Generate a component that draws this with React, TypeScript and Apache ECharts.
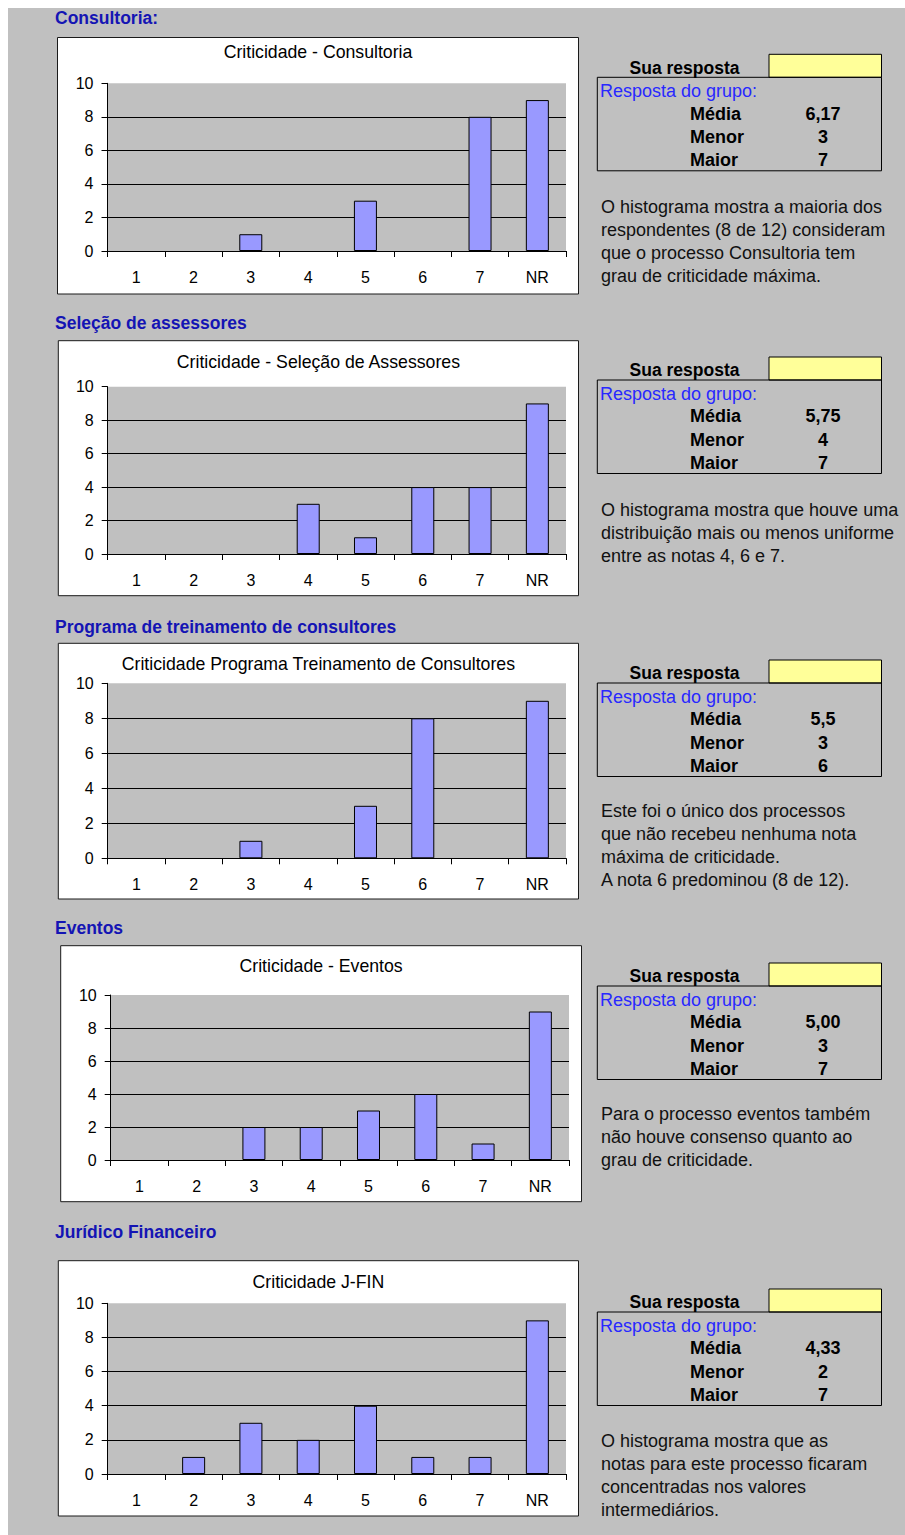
import React, { useEffect, useRef } from "react";
import * as echarts from "echarts";

// ---- data ----
const categories = ["1", "2", "3", "4", "5", "6", "7", "NR"];
const consultoria = [0, 0, 1, 0, 3, 0, 8, 9];
const selecao = [0, 0, 0, 3, 1, 4, 4, 9];
const programa = [0, 0, 1, 0, 3, 8, 0, 9];
const eventos = [0, 0, 2, 2, 3, 4, 1, 9];
const juridico = [0, 1, 3, 2, 4, 1, 1, 9];
const seriesData = [consultoria, selecao, programa, eventos, juridico];

const headings = [
  "Consultoria:",
  "Seleção de assessores",
  "Programa de treinamento de consultores",
  "Eventos",
  "Jurídico Financeiro",
];
const chartTitles = [
  "Criticidade - Consultoria",
  "Criticidade - Seleção de Assessores",
  "Criticidade Programa Treinamento de Consultores",
  "Criticidade - Eventos",
  "Criticidade J-FIN",
];
const medias = ["6,17", "5,75", "5,5", "5,00", "4,33"];
const menores = ["3", "4", "3", "3", "2"];
const maiores = ["7", "7", "6", "7", "7"];
const paragraphs = [
  ["O histograma mostra a maioria dos", "respondentes (8 de 12) consideram", "que o processo Consultoria tem", "grau de criticidade máxima."],
  ["O histograma mostra que houve uma", "distribuição mais ou menos uniforme", "entre as notas 4, 6 e 7."],
  ["Este foi o único dos processos", "que não recebeu nenhuma nota", "máxima de criticidade.", "A nota 6 predominou (8 de 12)."],
  ["Para o processo eventos também", "não houve consenso quanto ao", "grau de criticidade."],
  ["O histograma mostra que as", "notas para este processo ficaram", "concentradas nos valores", "intermediários."],
];

// ---- layout (page coordinates) ----
const layout = [
  { head: 18, bl: 57.5, bt: 37.5, br: 578.5, bb: 294, pl: 107.5, pr: 566, pt: 83.3, pb: 251, title: 52, yel: 54.3, para: 207 },
  { head: 322.7, bl: 58.3, bt: 340.7, br: 578.5, bb: 595.7, pl: 107.7, pr: 566, pt: 386.7, pb: 554, title: 361.7, yel: 357, para: 510 },
  { head: 626.7, bl: 58.3, bt: 643.3, br: 578.5, bb: 899, pl: 107.7, pr: 566, pt: 683.3, pb: 858.3, title: 664, yel: 660, para: 811 },
  { head: 927.7, bl: 60.7, bt: 945.7, br: 581.5, bb: 1201.7, pl: 110.7, pr: 569, pt: 995, pb: 1160, title: 966, yel: 963, para: 1114 },
  { head: 1231.7, bl: 58.3, bt: 1260.7, br: 578.5, bb: 1516, pl: 107.7, pr: 566, pt: 1303.3, pb: 1474, title: 1282, yel: 1289, para: 1441 },
];

const OFF = 8;
const FONT = "Liberation Sans, Arial, sans-serif";

export default function App() {
  const ref = useRef<HTMLDivElement>(null);
  useEffect(() => {
    document.body.style.margin = "8px 0 0 8px";
    document.body.style.overflow = "hidden";
    const chart = echarts.init(ref.current!, null, { renderer: "svg" });
    const o = (v: number) => v - OFF;
    const els: any[] = [];
    layout.forEach((s, i) => {
      // heading
      els.push({
        type: "text", z: 10, x: o(55), y: o(s.head),
        style: { text: headings[i], font: `bold 17.5px ${FONT}`, fill: "#1414b4", textVerticalAlign: "middle" },
      });
      // white chart box
      els.push({
        type: "rect", z: -1,
        shape: { x: o(s.bl), y: o(s.bt), width: s.br - s.bl, height: s.bb - s.bt },
        style: { fill: "#ffffff", stroke: "#1a1a1a", lineWidth: 1 },
      });
      // chart title
      els.push({
        type: "text", z: 10, x: o((s.bl + s.br) / 2), y: o(s.title),
        style: { text: chartTitles[i], font: `17.7px ${FONT}`, fill: "#000", textAlign: "center", textVerticalAlign: "middle" },
      });
      // yellow box
      els.push({
        type: "rect", z: 1,
        shape: { x: o(769), y: o(s.yel), width: 112.5, height: 23 },
        style: { fill: "#ffff99", stroke: "#000", lineWidth: 1 },
      });
      const tb = s.yel + 23;
      els.push({
        type: "rect", z: 1,
        shape: { x: o(597.3), y: o(tb), width: 284.2, height: 93.5 },
        style: { fill: "none", stroke: "#000", lineWidth: 1 },
      });
      els.push({
        type: "text", z: 10, x: o(684.5), y: o(s.yel + 13.4),
        style: { text: "Sua resposta", font: `bold 17.5px ${FONT}`, fill: "#000", textAlign: "center", textVerticalAlign: "middle" },
      });
      els.push({
        type: "text", z: 10, x: o(600), y: o(tb + 14),
        style: { text: "Resposta do grupo:", font: `18px ${FONT}`, fill: "#2828ff", textVerticalAlign: "middle" },
      });
      const rows = [["Média", medias[i]], ["Menor", menores[i]], ["Maior", maiores[i]]];
      rows.forEach((r, k) => {
        const y = tb + 36.3 + k * 23.3;
        els.push({
          type: "text", z: 10, x: o(690), y: o(y),
          style: { text: r[0], font: `bold 18px ${FONT}`, fill: "#000", textVerticalAlign: "middle" },
        });
        els.push({
          type: "text", z: 10, x: o(823), y: o(y),
          style: { text: r[1], font: `bold 18px ${FONT}`, fill: "#000", textAlign: "center", textVerticalAlign: "middle" },
        });
      });
      paragraphs[i].forEach((line, k) => {
        els.push({
          type: "text", z: 10, x: o(601), y: o(s.para + k * 23),
          style: { text: line, font: `18px ${FONT}`, fill: "#111", textVerticalAlign: "middle" },
        });
      });
    });

    const option: any = {
      animation: false,
      backgroundColor: "transparent",
      grid: layout.map((s) => ({
        left: o(s.pl), top: o(s.pt), width: s.pr - s.pl, height: s.pb - s.pt,
        show: true, backgroundColor: "#c0c0c0", borderWidth: 0, containLabel: false,
      })),
      xAxis: layout.map((s, i) => ({
        type: "category", gridIndex: i, data: categories, boundaryGap: true,
        axisLine: { show: true, lineStyle: { color: "#000", width: 1 } },
        axisTick: { show: true, length: 6, alignWithLabel: false, lineStyle: { color: "#000" } },
        axisLabel: { color: "#000", fontSize: 16, fontFamily: FONT, margin: 18 },
        splitLine: { show: false },
      })),
      yAxis: layout.map((s, i) => ({
        type: "value", gridIndex: i, min: 0, max: 10, interval: 2,
        axisLine: { show: true, lineStyle: { color: "#000", width: 1 } },
        axisTick: { show: true, length: 6, lineStyle: { color: "#000" } },
        axisLabel: { color: "#000", fontSize: 16, fontFamily: FONT, margin: 14 },
        splitLine: { show: true, lineStyle: { color: ["#000", "#000", "#000", "#000", "#000", "rgba(0,0,0,0)"], width: 1 } },
      })),
      series: seriesData.map((d, i) => ({
        type: "bar", xAxisIndex: i, yAxisIndex: i, barWidth: 23,
        data: d.map((v) => (v === 0 ? { value: v, itemStyle: { borderWidth: 0 } } : v)),
        itemStyle: { color: "#9999ff", borderColor: "#000", borderWidth: 1 },
      })),
      graphic: { elements: els },
    };
    chart.setOption(option);
    return () => chart.dispose();
  }, []);
  return <div ref={ref} style={{ width: 897, height: 1527, background: "#c0c0c0" }} />;
}
